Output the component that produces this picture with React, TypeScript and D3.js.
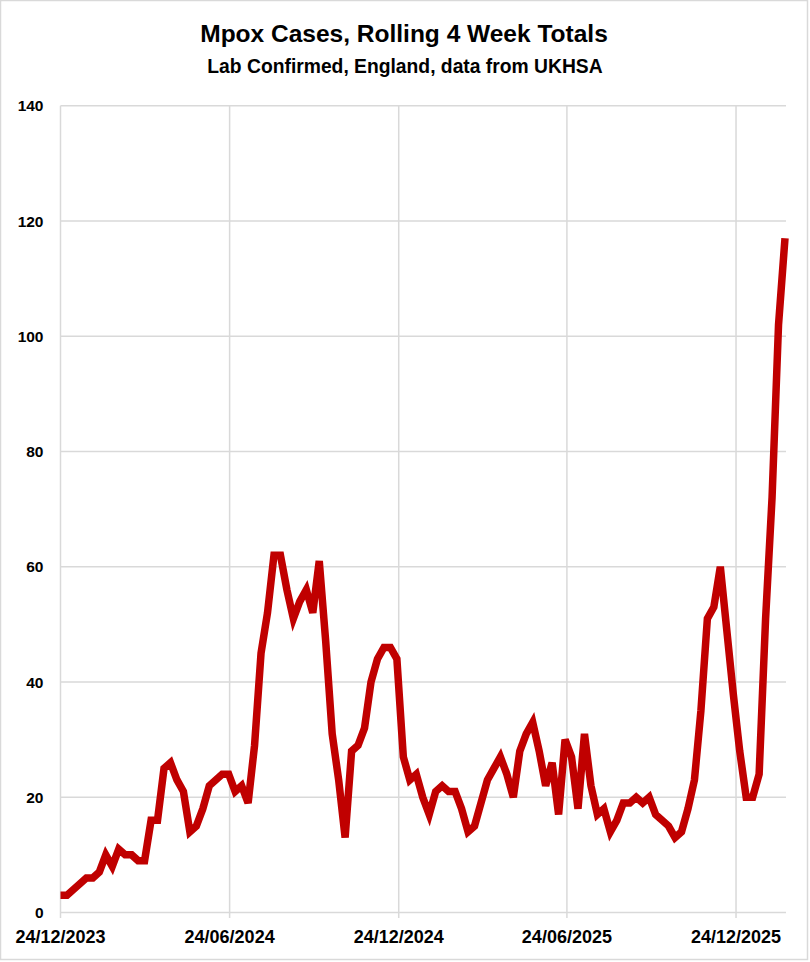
import React from "react";
import * as d3 from "d3";

const TITLE = "Mpox Cases, Rolling 4 Week Totals";
const SUBTITLE = "Lab Confirmed, England, data from UKHSA";

// Weekly rolling 4-week totals, first week ending 24/12/2023
const START_DATE = new Date(2023, 11, 24);
const cases: number[] = [
  3, 3, 4, 5, 6, 6, 7, 10, 8, 11,
  10, 10, 9, 9, 16, 16, 25, 26, 23, 21,
  14, 15, 18, 22, 23, 24, 24, 21, 22, 19,
  29, 45, 52, 62, 62, 56, 51, 54, 56, 52,
  61, 47, 31, 23, 13, 28, 29, 32, 40, 44,
  46, 46, 44, 27, 23, 24, 20, 17, 21, 22,
  21, 21, 18, 14, 15, 19, 23, 25, 27, 24,
  20, 28, 31, 33, 28, 22, 26, 17, 30, 27,
  18, 31, 22, 17, 18, 14, 16, 19, 19, 20,
  19, 20, 17, 16, 15, 13, 14, 18, 23, 35,
  51, 53, 60, 49, 38, 28, 20, 20, 24, 51,
  72, 102, 117,
];

const xTickDates: Date[] = [
  new Date(2023, 11, 24),
  new Date(2024, 5, 24),
  new Date(2024, 11, 24),
  new Date(2025, 5, 24),
  new Date(2025, 11, 24),
];
const xTickLabels: string[] = ["24/12/2023", "24/06/2024", "24/12/2024", "24/06/2025", "24/12/2025"];
const yTicks: number[] = [0, 20, 40, 60, 80, 100, 120, 140];

const W = 810;
const H = 962;
const FONT = "'Liberation Sans', Arial, sans-serif";

export default function App() {
  const dates = cases.map((_, i) => d3.timeDay.offset(START_DATE, 7 * i));
  const data = cases.map((v, i) => ({ date: dates[i], value: v }));

  const x = d3
    .scaleTime()
    .domain([dates[0], dates[dates.length - 1]])
    .range([60.5, 785]);
  const y = d3.scaleLinear().domain([0, 140]).range([912.5, 105.7]);

  const line = d3
    .line<{ date: Date; value: number }>()
    .x((d) => x(d.date))
    .y((d) => y(d.value));

  const left = 60.5;
  const right = 786;

  return (
    <svg
      width={W}
      height={H}
      style={{ position: "absolute", left: 0, top: 0, background: "#fff" }}
      fontFamily={FONT}
    >
      <rect x={0.5} y={0.5} width={807} height={959} fill="#fff" stroke="#D9D9D9" strokeWidth={1.5} />

      <text x={404} y={41.7} textAnchor="middle" fontSize={24.5} fontWeight="bold" fill="#000">
        {TITLE}
      </text>
      <text x={405} y={72.7} textAnchor="middle" fontSize={19.3} fontWeight="bold" fill="#000">
        {SUBTITLE}
      </text>

      {/* horizontal gridlines */}
      {yTicks.map((t) => (
        <line key={"h" + t} x1={left} x2={right} y1={y(t)} y2={y(t)} stroke="#D9D9D9" strokeWidth={1.5} />
      ))}
      {/* vertical gridlines */}
      {xTickDates.map((d, i) => (
        <line
          key={"v" + i}
          x1={x(d)}
          x2={x(d)}
          y1={y(140)}
          y2={918}
          stroke="#D9D9D9"
          strokeWidth={1.5}
        />
      ))}

      {/* y labels */}
      {yTicks.map((t) => (
        <text
          key={"yl" + t}
          x={43.5}
          y={y(t)}
          dy="0.36em"
          textAnchor="end"
          fontSize={15.5}
          fontWeight="bold"
          fill="#000"
        >
          {t}
        </text>
      ))}

      {/* x labels */}
      {xTickDates.map((d, i) => (
        <text
          key={"xl" + i}
          x={x(d)}
          y={943.3}
          textAnchor="middle"
          fontSize={18}
          fontWeight="bold"
          fill="#000"
        >
          {xTickLabels[i]}
        </text>
      ))}

      <path d={line(data) || ""} fill="none" stroke="#C00000" strokeWidth={7.5} strokeLinejoin="miter" />
    </svg>
  );
}
